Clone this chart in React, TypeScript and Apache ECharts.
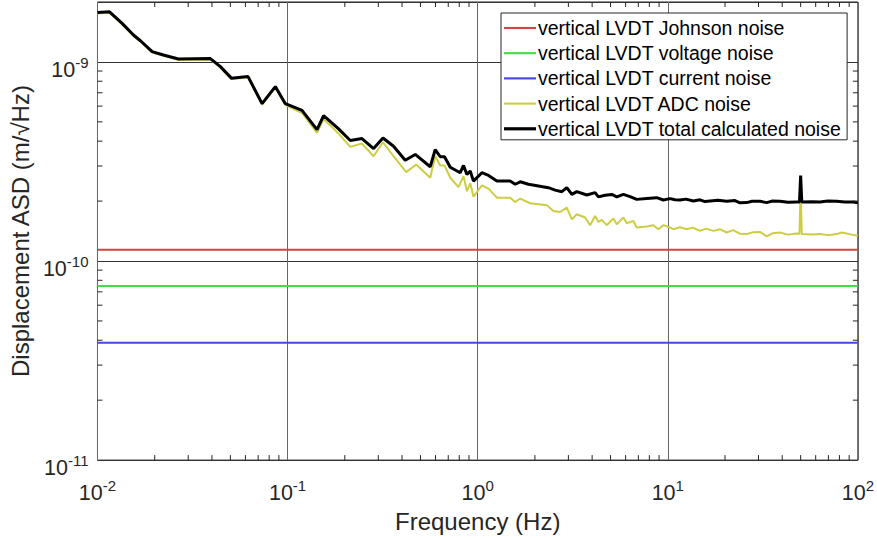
import React, { useEffect, useRef } from "react";
import * as echarts from "echarts";

const FONT = "'Liberation Sans', Arial, Helvetica, sans-serif";

const seriesNames = [
  "vertical LVDT Johnson noise",
  "vertical LVDT voltage noise",
  "vertical LVDT current noise",
  "vertical LVDT ADC noise",
  "vertical LVDT total calculated noise",
];
const seriesColors = ["#d24545", "#3ee23e", "#4646e8", "#cdcd45", "#000000"];
const seriesWidths = [2, 2, 2, 2, 3];

const xRange = [0.01, 100];
const yRange = [1e-11, 2e-9];

const johnsonLevel = 1.14e-10;
const voltageLevel = 7.5e-11;
const currentLevel = 3.89e-11;

const totalNoise: [number, number][] = [
  [0.01, 1.773e-9], [0.01157, 1.785e-9], [0.01348, 1.562e-9], [0.01546, 1.365e-9],
  [0.01683, 1.278e-9], [0.01939, 1.126e-9], [0.02223, 1.084e-9], [0.02666, 1.035e-9],
  [0.03926, 1.039e-9], [0.04431, 9.47e-10], [0.05062, 8.29e-10], [0.06196, 8.44e-10],
  [0.0734, 6.17e-10], [0.08621, 7.52e-10], [0.09732, 6.17e-10],
  [0.1191, 5.71e-10], [0.1428, 4.57e-10], [0.1547, 5.37e-10], [0.1855, 4.61e-10],
  [0.2137, 4.03e-10], [0.2462, 4.12e-10], [0.2834, 3.67e-10], [0.3176, 4.15e-10],
  [0.3609, 3.77e-10], [0.4157, 3.21e-10], [0.4694, 3.43e-10], [0.5628, 2.975e-10],
  [0.5978, 3.63e-10], [0.6354, 3.34e-10], [0.6693, 3.34e-10], [0.7172, 2.96e-10],
  [0.8091, 2.776e-10], [0.8422, 3.02e-10], [0.8777, 2.72e-10], [0.9134, 2.83e-10],
  [0.9506, 2.52e-10], [1.052, 2.776e-10], [1.14, 2.69e-10], [1.262, 2.52e-10],
  [1.482, 2.52e-10], [1.575, 2.43e-10], [1.673, 2.5e-10], [1.849, 2.43e-10],
  [2.356, 2.335e-10], [2.556, 2.27e-10], [2.771, 2.23e-10], [2.944, 2.335e-10],
  [3.128, 2.16e-10], [3.322, 2.23e-10], [3.75, 2.145e-10], [4.146, 2.205e-10],
  [4.315, 2.1e-10], [4.679, 2.14e-10], [5.076, 2.16e-10], [5.392, 2.1e-10],
  [5.841, 2.16e-10], [6.333, 2.105e-10], [6.867, 2.04e-10], [7.752, 2.06e-10],
  [8.748, 2.08e-10], [9.476, 2.025e-10],
  [10.27, 2.058e-10], [10.92, 2.03e-10], [11.6, 2.025e-10], [12.47, 2.046e-10],
  [13.62, 2.002e-10], [14.77, 2.03e-10], [15.7, 1.988e-10], [16.68, 2.002e-10],
  [18.37, 2.018e-10], [20.41, 1.995e-10], [22.57, 2.011e-10], [23.98, 1.961e-10],
  [26.0, 1.965e-10], [27.72, 1.995e-10], [30.54, 1.995e-10], [33.13, 1.965e-10],
  [35.32, 2.0e-10], [38.9, 1.995e-10], [42.87, 1.972e-10], [47.63, 1.979e-10],
  [49.3, 1.98e-10], [50.0, 2.69e-10], [50.7, 1.98e-10], [57.31, 1.985e-10],
  [63.14, 1.979e-10], [69.56, 2.0e-10], [77.27, 1.995e-10], [85.45, 1.977e-10],
  [94.47, 1.979e-10], [100, 1.961e-10],
];

const adcNoise: [number, number][] = [
  [0.01, 1.755e-9], [0.01157, 1.767e-9], [0.01348, 1.546e-9], [0.01546, 1.351e-9],
  [0.01683, 1.265e-9], [0.01939, 1.115e-9], [0.02223, 1.073e-9], [0.02666, 1.025e-9],
  [0.03926, 1.028e-9], [0.04431, 9.37e-10], [0.05062, 8.2e-10], [0.06196, 8.35e-10],
  [0.0734, 6.1e-10], [0.08621, 7.44e-10], [0.09732, 6.08e-10],
  [0.1191, 5.54e-10], [0.1428, 4.4e-10], [0.1547, 5.17e-10], [0.1855, 4.365e-10],
  [0.2137, 3.745e-10], [0.2462, 3.89e-10], [0.2834, 3.36e-10], [0.3176, 3.95e-10],
  [0.3609, 3.36e-10], [0.4208, 2.795e-10], [0.4751, 3.055e-10], [0.5628, 2.62e-10],
  [0.5978, 3.37e-10], [0.6354, 3.02e-10], [0.6693, 3.02e-10], [0.7172, 2.62e-10],
  [0.7927, 2.35e-10], [0.8422, 2.67e-10], [0.8777, 2.245e-10], [0.9134, 2.455e-10],
  [0.9506, 2.105e-10], [1.052, 2.4e-10], [1.14, 2.31e-10], [1.262, 2.08e-10],
  [1.482, 2.08e-10], [1.575, 1.98e-10], [1.673, 2.06e-10], [1.888, 1.95e-10],
  [2.311, 1.905e-10], [2.503, 1.784e-10], [2.714, 1.763e-10], [2.944, 1.855e-10],
  [3.128, 1.62e-10], [3.322, 1.718e-10], [3.675, 1.654e-10], [3.905, 1.514e-10],
  [4.146, 1.684e-10], [4.315, 1.572e-10], [4.494, 1.609e-10], [4.775, 1.514e-10],
  [5.172, 1.634e-10], [5.392, 1.531e-10], [5.841, 1.654e-10], [6.084, 1.549e-10],
  [6.592, 1.59e-10], [6.867, 1.474e-10], [7.752, 1.491e-10], [8.395, 1.514e-10],
  [8.92, 1.445e-10], [9.476, 1.514e-10],
  [10.27, 1.474e-10], [10.7, 1.445e-10], [11.6, 1.479e-10], [12.58, 1.445e-10],
  [13.57, 1.471e-10], [14.77, 1.417e-10], [15.89, 1.454e-10], [17.36, 1.417e-10],
  [18.82, 1.445e-10], [20.41, 1.391e-10], [22.03, 1.429e-10], [23.98, 1.372e-10],
  [26.0, 1.365e-10], [28.06, 1.396e-10], [30.54, 1.4e-10], [33.13, 1.329e-10],
  [35.75, 1.38e-10], [38.9, 1.391e-10], [42.87, 1.357e-10], [47.63, 1.376e-10],
  [49.3, 1.37e-10], [50.0, 2.3e-10], [50.7, 1.365e-10], [57.31, 1.357e-10],
  [63.14, 1.365e-10], [69.56, 1.349e-10], [77.27, 1.365e-10], [82.1, 1.391e-10],
  [93.0, 1.357e-10], [100, 1.338e-10],
];

const xMinorTicks = [
  0.02, 0.03, 0.04, 0.05, 0.06, 0.07, 0.08, 0.09,
  0.2, 0.3, 0.4, 0.5, 0.6, 0.7, 0.8, 0.9,
  2, 3, 4, 5, 6, 7, 8, 9,
  20, 30, 40, 50, 60, 70, 80, 90,
];
const yMinorTicks = [
  2e-11, 3e-11, 4e-11, 5e-11, 6e-11, 7e-11, 8e-11, 9e-11,
  2e-10, 3e-10, 4e-10, 5e-10, 6e-10, 7e-10, 8e-10, 9e-10,
];

const AXIS_COLOR = "#262626";
const TICK_LEN = 5;

function powLabel(v: number): string {
  const lg = Math.log10(v);
  const e = Math.round(lg);
  if (Math.abs(lg - e) > 1e-6) return "";
  return `{b|10}{s|${e < 0 ? "-" : ""}${Math.abs(e)}}`;
}

const richStyle = {
  b: { fontSize: 21.5, lineHeight: 26, verticalAlign: "bottom", fontFamily: FONT, color: AXIS_COLOR },
  s: { fontSize: 15, lineHeight: 10, verticalAlign: "top", fontFamily: FONT, color: AXIS_COLOR },
};

export default function App() {
  const ref = useRef<HTMLDivElement>(null);

  useEffect(() => {
    document.body.style.margin = "0";
    if (!ref.current) return;
    const chart = echarts.init(ref.current, null, { renderer: "svg" });

    const flat = (level: number) => [
      [xRange[0], level],
      [xRange[1], level],
    ];
    const levels = [johnsonLevel, voltageLevel, currentLevel];

    const lineSeries: any[] = levels.map((lv, i) => ({
      name: seriesNames[i],
      type: "line",
      data: flat(lv),
      symbol: "none",
      lineStyle: { color: seriesColors[i], width: seriesWidths[i] },
      itemStyle: { color: seriesColors[i] },
      z: 3,
    }));
    lineSeries.push({
      name: seriesNames[3],
      type: "line",
      data: adcNoise,
      symbol: "none",
      lineStyle: { color: seriesColors[3], width: seriesWidths[3] },
      itemStyle: { color: seriesColors[3] },
      z: 4,
    });
    lineSeries.push({
      name: seriesNames[4],
      type: "line",
      data: totalNoise,
      symbol: "none",
      lineStyle: { color: seriesColors[4], width: seriesWidths[4] },
      itemStyle: { color: seriesColors[4] },
      z: 5,
    });

    const xMinorSeries = {
      type: "custom",
      silent: true,
      clip: false,
      z: 6,
      data: xMinorTicks.map((v) => [v, yRange[0]]),
      renderItem: (params: any, api: any) => {
        const v = api.value(0);
        const pb = api.coord([v, yRange[0]]);
        const pt = api.coord([v, yRange[1]]);
        return {
          type: "group",
          children: [
            { type: "line", shape: { x1: pb[0], y1: pb[1], x2: pb[0], y2: pb[1] - TICK_LEN }, style: { stroke: AXIS_COLOR, lineWidth: 1 } },
            { type: "line", shape: { x1: pt[0], y1: pt[1], x2: pt[0], y2: pt[1] + TICK_LEN }, style: { stroke: AXIS_COLOR, lineWidth: 1 } },
          ],
        };
      },
    };
    const yMinorSeries = {
      type: "custom",
      silent: true,
      clip: false,
      z: 6,
      data: yMinorTicks.map((v) => [xRange[0], v]),
      renderItem: (params: any, api: any) => {
        const v = api.value(1);
        const pl = api.coord([xRange[0], v]);
        const pr = api.coord([xRange[1], v]);
        return {
          type: "group",
          children: [
            { type: "line", shape: { x1: pl[0], y1: pl[1], x2: pl[0] + TICK_LEN, y2: pl[1] }, style: { stroke: AXIS_COLOR, lineWidth: 1 } },
            { type: "line", shape: { x1: pr[0], y1: pr[1], x2: pr[0] - TICK_LEN, y2: pr[1] }, style: { stroke: AXIS_COLOR, lineWidth: 1 } },
          ],
        };
      },
    };

    const legendData = seriesNames.map((name, i) => ({
      name,
      icon: `path://M0 0H30V${seriesWidths[i]}H0Z`,
      itemStyle: { color: seriesColors[i], borderWidth: 0 },
    }));

    chart.setOption({
      animation: false,
      backgroundColor: "#ffffff",
      textStyle: { fontFamily: FONT },
      grid: {
        left: 97,
        right: 19,
        top: 2,
        bottom: 76,
        show: true,
        borderColor: AXIS_COLOR,
        borderWidth: 1,
        backgroundColor: "transparent",
        containLabel: false,
      },
      legend: {
        data: legendData,
        orient: "vertical",
        left: 501,
        top: 13,
        align: "left",
        padding: [5, 6, 1, 3],
        itemGap: 5.2,
        itemWidth: 32,
        itemHeight: 14,
        symbolKeepAspect: true,
        backgroundColor: "#ffffff",
        borderColor: AXIS_COLOR,
        borderWidth: 1,
        borderRadius: 0,
        textStyle: { fontSize: 19.5, lineHeight: 20, color: "#000", fontFamily: FONT, padding: [0, 0, 0, -3] },
        selectedMode: false,
      },
      xAxis: {
        type: "log",
        logBase: 10,
        min: xRange[0],
        max: xRange[1],
        name: "Frequency (Hz)",
        nameLocation: "middle",
        nameGap: 43,
        nameTextStyle: { fontSize: 24, color: AXIS_COLOR, fontFamily: FONT },
        axisLine: { show: false },
        axisTick: { show: false },
        splitLine: { show: true, lineStyle: { color: "#666666", width: 1 } },
        minorSplitLine: { show: false },
        axisLabel: {
          margin: 18,
          formatter: powLabel,
          rich: richStyle,
          showMinLabel: true,
          showMaxLabel: true,
          hideOverlap: false,
        },
      },
      yAxis: {
        type: "log",
        logBase: 10,
        min: yRange[0],
        max: yRange[1],
        name: "Displacement ASD (m/\u221AHz)",
        nameLocation: "middle",
        nameGap: 63,
        nameTextStyle: { fontSize: 24, color: AXIS_COLOR, fontFamily: FONT },
        axisLine: { show: false },
        axisTick: { show: false },
        splitLine: { show: true, lineStyle: { color: "#333333", width: 1 } },
        axisLabel: {
          margin: 9,
          padding: [12, 0, 0, 0],
          formatter: powLabel,
          rich: richStyle,
          showMaxLabel: false,
        },
      },
      series: [...lineSeries, xMinorSeries, yMinorSeries],
    });

    return () => chart.dispose();
  }, []);

  return (
    <div
      ref={ref}
      style={{ position: "absolute", left: 0, top: 0, width: 877, height: 538 }}
    />
  );
}
